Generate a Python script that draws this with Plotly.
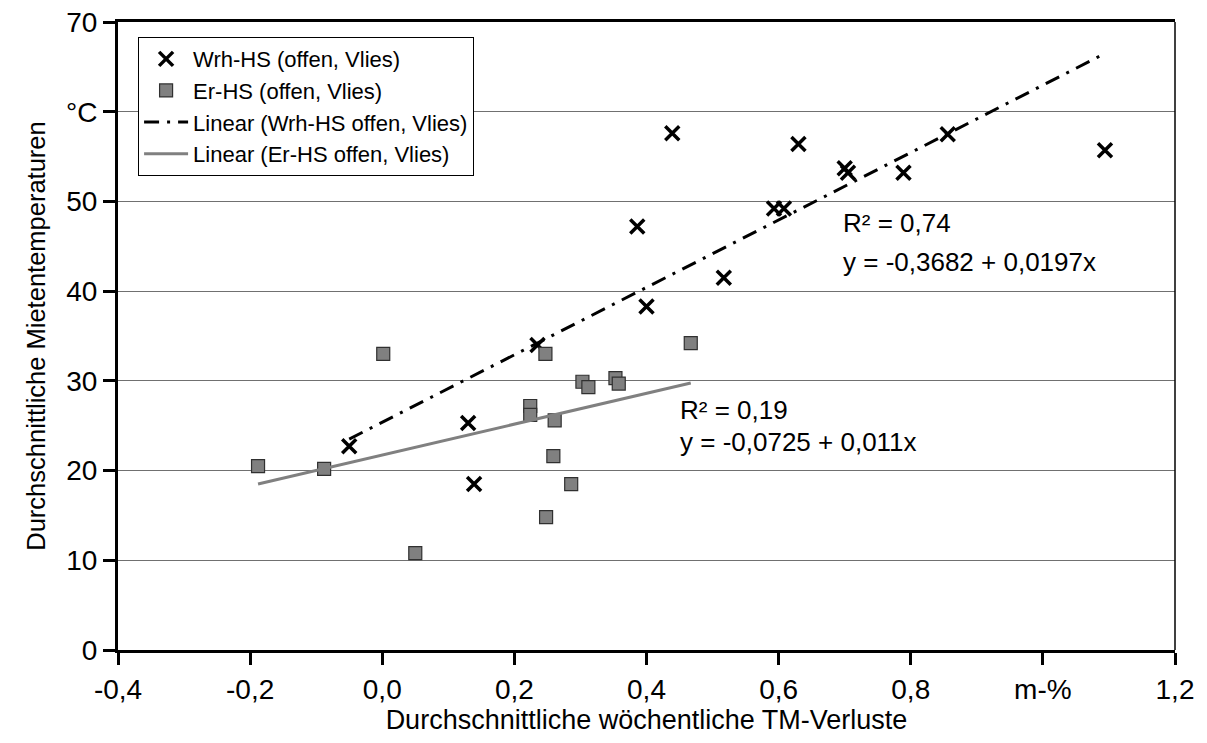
import numpy as np
import plotly.graph_objects as go

# Wrh-HS (offen, Vlies)
wrh_x = [-0.05, 0.13, 0.139, 0.235, 0.386, 0.40, 0.439, 0.517, 0.593, 0.608, 0.630, 0.700, 0.705, 0.789, 0.856, 1.094]
wrh_y = [22.7, 25.3, 18.5, 34.0, 47.2, 38.3, 57.6, 41.5, 49.2, 49.2, 56.4, 53.7, 53.2, 53.2, 57.5, 55.7]

# Er-HS (offen, Vlies)
er_x = [-0.188, -0.088, 0.0015, 0.05, 0.224, 0.224, 0.247, 0.261, 0.259, 0.286, 0.248, 0.303, 0.312, 0.353, 0.358, 0.467]
er_y = [20.5, 20.2, 33.0, 10.8, 27.2, 26.2, 33.0, 25.6, 21.6, 18.5, 14.8, 29.9, 29.3, 30.3, 29.7, 34.2]

x_tickvals = [-0.4, -0.2, 0.0, 0.2, 0.4, 0.6, 0.8, 1.0, 1.2]
x_ticktext = ["-0,4", "-0,2", "0,0", "0,2", "0,4", "0,6", "0,8", "m-%", "1,2"]
y_tickvals = [0, 10, 20, 30, 40, 50, 60, 70]
y_ticktext = ["0", "10", "20", "30", "40", "50", "°C", "70"]

FONT = "Liberation Sans, Arial, sans-serif"


def trend(xs, ys):
    # linear trendline (y on x), drawn over the data range like Excel does
    k, d = np.polyfit(xs, ys, 1)
    xe = np.array([min(xs), max(xs)])
    return xe, k * xe + d


fig = go.Figure()

fig.add_trace(go.Scatter(
    x=wrh_x, y=wrh_y, mode="markers", name="Wrh-HS (offen, Vlies)",
    marker=dict(symbol="x-thin-open", size=14, color="black",
                line=dict(color="black", width=3.5))))

fig.add_trace(go.Scatter(
    x=er_x, y=er_y, mode="markers", name="Er-HS (offen, Vlies)",
    marker=dict(symbol="square", size=13, color="#808080",
                line=dict(color="#303030", width=1.2))))

tx, ty = trend(wrh_x, wrh_y)
fig.add_trace(go.Scatter(
    x=tx, y=ty, mode="lines", name="Linear (Wrh-HS offen, Vlies)",
    line=dict(color="black", width=3, dash="15px,8px,3px,8px")))

tx, ty = trend(er_x, er_y)
fig.add_trace(go.Scatter(
    x=tx, y=ty, mode="lines", name="Linear (Er-HS offen, Vlies)",
    line=dict(color="#808080", width=3)))

# regression labels
ann_font = dict(size=26, color="black", family=FONT)
for xa, ya, txt in [(0.694, 47.6, "R² = 0,74"), (0.694, 43.2, "y = -0,3682 + 0,0197x"),
                    (0.447, 26.8, "R² = 0,19"), (0.447, 23.2, "y = -0,0725 + 0,011x")]:
    fig.add_annotation(x=xa, y=ya, xref="x", yref="y", xanchor="left", yanchor="middle",
                       showarrow=False, text=txt, font=ann_font)

# thin right frame line
fig.add_shape(type="line", xref="paper", yref="paper", x0=1, x1=1, y0=0, y1=1,
              line=dict(color="black", width=1.5))

fig.update_xaxes(
    range=[-0.4, 1.2], tickvals=x_tickvals, ticktext=x_ticktext,
    showgrid=False, zeroline=False, automargin=False,
    showline=True, linecolor="black", linewidth=3, mirror=True,
    ticks="outside", ticklen=12, tickwidth=2.5, tickcolor="black",
    ticklabeloverflow="allow",
    tickfont=dict(size=28, color="black", family=FONT),
    title=dict(text="Durchschnittliche wöchentliche TM-Verluste", standoff=4,
               font=dict(size=27, color="black", family=FONT)))

fig.update_yaxes(
    range=[0, 70], tickvals=y_tickvals, ticktext=y_ticktext,
    showgrid=True, gridcolor="#707070", gridwidth=1, zeroline=False, automargin=False,
    showline=True, linecolor="black", linewidth=3,
    ticks="outside", ticklen=12, tickwidth=2.5, tickcolor="black",
    ticklabeloverflow="allow",
    tickfont=dict(size=28, color="black", family=FONT),
    title=dict(text="Durchschnittliche Mietentemperaturen", standoff=14,
               font=dict(size=25.5, color="black", family=FONT)))

fig.update_layout(
    width=1207, height=743,
    margin=dict(l=110, r=40, t=14, b=101),
    paper_bgcolor="white", plot_bgcolor="white",
    font=dict(family=FONT, color="black"),
    showlegend=True,
    legend=dict(x=0.019, y=0.976, xanchor="left", yanchor="top",
                bgcolor="white", bordercolor="black", borderwidth=1,
                font=dict(size=22, color="black", family=FONT),
                tracegroupgap=0, itemwidth=44))

fig.write_html("out.html")
